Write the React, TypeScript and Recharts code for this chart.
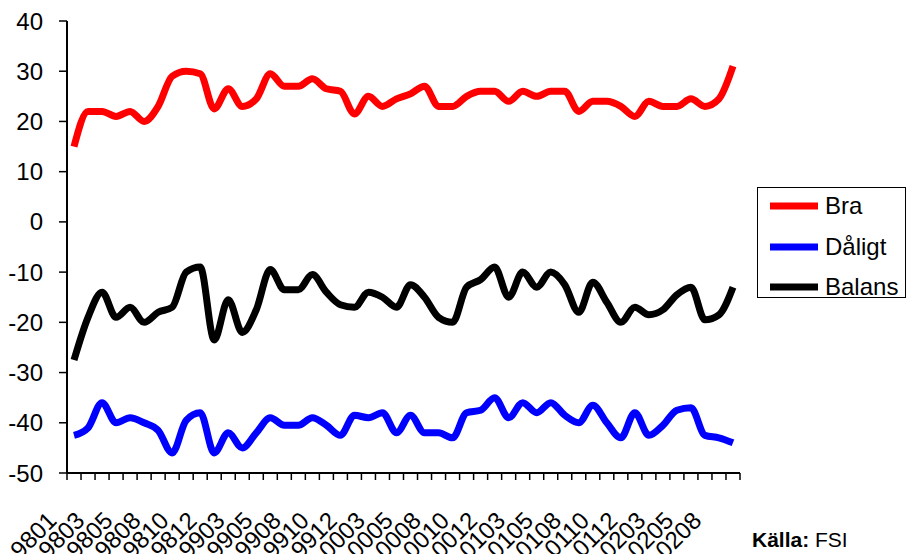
import React from 'react';
import { LineChart, Line, XAxis, YAxis, Legend } from 'recharts';

const categories = [
  '9801', '9802', '9803', '9804', '9805', '9806', '9808', '9809', '9810', '9811', '9812',
  '9902', '9903', '9904', '9905', '9906', '9908', '9909', '9910', '9911', '9912',
  '0002', '0003', '0004', '0005', '0006', '0008', '0009', '0010', '0011', '0012',
  '0102', '0103', '0104', '0105', '0106', '0108', '0109', '0110', '0111', '0112',
  '0202', '0203', '0204', '0205', '0206', '0208', '0209',
];

const bra = [
  15, 22, 22, 21, 22, 20, 23, 29, 30, 29.5, 22.5,
  26.5, 23, 24.5, 29.5, 27, 27, 28.5, 26.5, 26, 21.5,
  25, 23, 24.5, 25.5, 27, 23, 23, 25, 26, 26,
  24, 26, 25, 26, 26, 22, 24, 24, 23, 21,
  24, 23, 23, 24.5, 23, 24.5, 31,
];

const daligt = [
  -42.5, -41, -36, -40, -39, -40, -41.5, -46, -39.5, -38, -46,
  -42, -45, -42, -39, -40.5, -40.5, -39, -40.5, -42.5, -38.5,
  -39, -38, -42, -38.5, -42, -42, -43, -38, -37.5, -35,
  -39, -36, -38, -36, -38.5, -40, -36.5, -40, -43, -38,
  -42.5, -40.5, -37.5, -37, -42.5, -43, -44,
];

const balans = [
  -27.5, -19, -14, -19, -17, -20, -18, -17, -10, -9, -23.5,
  -15.5, -22, -17.5, -9.5, -13.5, -13.5, -10.5, -14, -16.5, -17,
  -14, -15, -17, -12.5, -15, -19, -20, -13, -11.5, -9,
  -15, -10, -13, -10, -12.5, -18, -12, -16, -20, -17,
  -18.5, -17.5, -14.5, -13, -19.5, -18.5, -13,
];

const yTicks = [-50, -40, -30, -20, -10, 0, 10, 20, 30, 40];

const seriesNames = ['Bra', 'Dåligt', 'Balans'];
const seriesColors = ['#ff0000', '#0000ff', '#000000'];

const data = categories.map((c, i) => ({
  idx: i,
  cat: c,
  bra: bra[i],
  daligt: daligt[i],
  balans: balans[i],
}));

const tickMarkPositions = categories.map((_, i) => i - 0.5).concat([categories.length - 0.5]);
const labelPositions = categories.map((_, i) => i).filter((i) => i % 2 === 0);
const xDomain = [-0.5, categories.length - 0.5];

const FONT = '"Liberation Sans", Arial, sans-serif';
const LABEL_Y = 522;

const EmptyTick = () => null;

const XLabel = (props: any) => {
  const { x, payload } = props;
  const label = categories[payload.value];
  if (label === undefined) return null;
  return (
    <text
      transform={`translate(${x - 16},${LABEL_Y}) rotate(-45)`}
      textAnchor="end"
      fontSize={24}
      fontFamily={FONT}
      fill="#000"
    >
      {label}
    </text>
  );
};

const renderLegend = () => {
  const lineY = [19, 60, 100];
  return (
    <svg width={150} height={111} style={{ display: 'block', overflow: 'visible' }}>
      <rect x={0.5} y={0.5} width={148} height={110} fill="#fff" stroke="#000" strokeWidth={1} />
      {seriesNames.map((n, k) => (
        <g key={n}>
          <line x1={13} x2={61} y1={lineY[k]} y2={lineY[k]} stroke={seriesColors[k]} strokeWidth={7} />
          <text x={68} y={lineY[k] + 8} fontSize={24} fontFamily={FONT} fill="#000">
            {n}
          </text>
        </g>
      ))}
    </svg>
  );
};

export default function App() {
  return (
    <div style={{ position: 'absolute', left: 0, top: 0, width: 909, height: 554, background: '#fff' }}>
      <LineChart
        width={909}
        height={554}
        data={data}
        margin={{ top: 21, right: 169, bottom: 0, left: 0 }}
      >
        <XAxis
          xAxisId="a_ticks"
          type="number"
          dataKey="idx"
          domain={xDomain}
          ticks={tickMarkPositions}
          interval={0}
          tick={<EmptyTick />}
          tickSize={7}
          height={1}
          axisLine={{ stroke: '#000', strokeWidth: 2 }}
          tickLine={{ stroke: '#000', strokeWidth: 1.5 }}
          allowDataOverflow
        />
        <XAxis
          xAxisId="b_labels"
          type="number"
          dataKey="idx"
          domain={xDomain}
          ticks={labelPositions}
          interval={0}
          tick={<XLabel />}
          tickLine={false}
          axisLine={false}
          height={80}
          allowDataOverflow
        />
        <YAxis
          type="number"
          domain={[-50, 40]}
          ticks={yTicks}
          interval={0}
          width={67}
          tickSize={8}
          tickMargin={16}
          axisLine={{ stroke: '#000', strokeWidth: 2 }}
          tickLine={{ stroke: '#000', strokeWidth: 1.5 }}
          tick={{ fontSize: 24, fontFamily: FONT, fill: '#000' }}
          allowDataOverflow
        />
        <Legend
          layout="vertical"
          align="center"
          verticalAlign="middle"
          content={renderLegend}
          wrapperStyle={{ position: 'absolute', left: 757, top: 187, width: 150, height: 111 }}
        />
        <Line
          xAxisId="a_ticks"
          type="monotone"
          dataKey="bra"
          name="Bra"
          stroke="#ff0000"
          strokeWidth={7}
          dot={false}
          isAnimationActive={false}
        />
        <Line
          xAxisId="a_ticks"
          type="monotone"
          dataKey="daligt"
          name="Dåligt"
          stroke="#0000ff"
          strokeWidth={7}
          dot={false}
          isAnimationActive={false}
        />
        <Line
          xAxisId="b_labels"
          type="monotone"
          dataKey="balans"
          name="Balans"
          stroke="#000000"
          strokeWidth={7}
          dot={false}
          isAnimationActive={false}
        />
      </LineChart>
      <div
        style={{
          position: 'absolute',
          left: 752,
          top: 528,
          fontFamily: FONT,
          fontSize: 21,
          lineHeight: 'normal',
          color: '#000',
          whiteSpace: 'nowrap',
        }}
      >
        <b>Källa:</b> FSI
      </div>
    </div>
  );
}
